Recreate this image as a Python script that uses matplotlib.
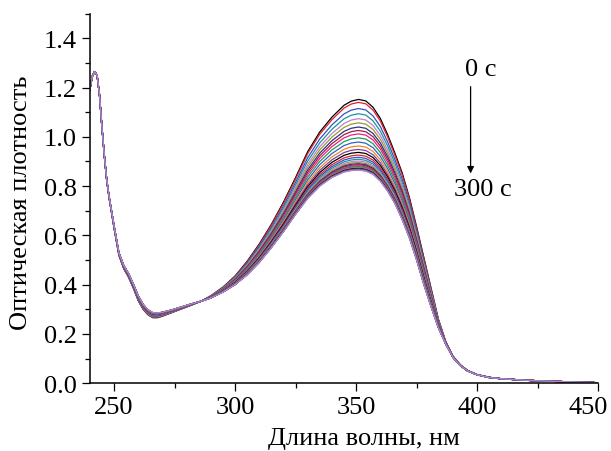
import numpy as np
from matplotlib import pyplot as plt
from matplotlib.ticker import MultipleLocator
from matplotlib.transforms import ScaledTranslation

# wavelength grid, nm
wavelength = [240, 241, 242, 243, 244, 245, 246, 247, 248,
              250, 252, 254, 256, 258, 260, 262, 264, 266, 268, 270,
              274, 278, 282, 286, 290, 295,
              300, 305, 310, 315, 320, 325, 330, 335, 340, 345,
              348, 351, 354, 357, 360, 363, 366, 369, 372, 375, 378, 381, 384, 387, 390, 393, 396,
              400, 405, 410, 420, 430, 440, 450]

# spectrum at 0 s
absorb_start = [1.19, 1.245, 1.265, 1.25, 1.17, 1.04, 0.92, 0.82, 0.75,
                0.63, 0.52, 0.465, 0.43, 0.385, 0.335, 0.30, 0.278, 0.266, 0.266, 0.272,
                0.287, 0.302, 0.317, 0.333, 0.355, 0.39,
                0.435, 0.495, 0.565, 0.645, 0.735, 0.835, 0.94, 1.02, 1.08, 1.128,
                1.145, 1.152, 1.146, 1.12, 1.075, 1.01, 0.935, 0.855, 0.755, 0.635, 0.51, 0.385, 0.26, 0.17, 0.11, 0.075, 0.052,
                0.035, 0.024, 0.018, 0.012, 0.008, 0.005, 0.002]

# spectrum at 300 s
absorb_end = [1.19, 1.245, 1.265, 1.25, 1.17, 1.04, 0.925, 0.825, 0.755,
              0.64, 0.53, 0.478, 0.445, 0.402, 0.355, 0.32, 0.298, 0.286, 0.285, 0.288,
              0.298, 0.31, 0.322, 0.333, 0.346, 0.37,
              0.40, 0.44, 0.49, 0.55, 0.615, 0.685, 0.75, 0.80, 0.835, 0.857,
              0.863, 0.865, 0.861, 0.848, 0.82, 0.78, 0.73, 0.665, 0.59, 0.50, 0.40, 0.31, 0.225, 0.16, 0.105, 0.072, 0.05,
              0.034, 0.023, 0.018, 0.012, 0.008, 0.005, 0.002]

# absorbance at the 351 nm maximum for each recorded spectrum (0 ... 300 s)
peak_heights = [1.152, 1.140, 1.115, 1.094, 1.074, 1.057, 1.040, 1.026, 1.012, 0.996,
                0.979, 0.963, 0.949, 0.937, 0.926, 0.917, 0.909, 0.902, 0.896, 0.891,
                0.887, 0.883, 0.880, 0.877, 0.875, 0.873, 0.871, 0.869, 0.868, 0.866, 0.865]

x_ticks = [250, 300, 350, 400, 450]

colors = ["#000000", "#e3202a", "#3a4fc0", "#17979a", "#c27fd0", "#9a9a2e", "#2e2e8e",
          "#a01f3f", "#ee1f88", "#1f9f4f", "#3060d0", "#f08a1e", "#7f3f9f"]

plt.rcParams['font.family'] = ['Liberation Serif', 'DejaVu Serif']

s0 = np.array(absorb_start)
s1 = np.array(absorb_end)

fig = plt.figure(figsize=(6.11, 4.52), dpi=100)
ax = fig.add_axes([0.147, 0.150, 0.832, 0.8175])

for i, peak in enumerate(peak_heights):
    frac = (peak - peak_heights[-1]) / (peak_heights[0] - peak_heights[-1])
    spectrum = s1 + frac * (s0 - s1)
    ax.plot(wavelength, spectrum, color=colors[i % len(colors)], lw=0.9)

ax.set_xlim(240, 450)
ax.set_ylim(0, 1.5)
ax.set_xticks(x_ticks)
ax.set_xticklabels([str(t) for t in x_ticks])
ax.xaxis.set_minor_locator(MultipleLocator(25))
ax.yaxis.set_major_locator(MultipleLocator(0.2))
ax.yaxis.set_minor_locator(MultipleLocator(0.1))
ax.yaxis.set_major_formatter(plt.FormatStrFormatter('%.1f'))
ax.spines['top'].set_visible(False)
ax.spines['right'].set_visible(False)
for s in ['left', 'bottom']:
    ax.spines[s].set_linewidth(1.1)
ax.tick_params(which='major', direction='out', length=5.8, width=0.9, labelsize=19)
ax.tick_params(which='minor', direction='out', length=3.6, width=0.9)

# keep the last x label inside the picture
last = ax.xaxis.get_major_ticks()[-1].label1
last.set_transform(last.get_transform() + ScaledTranslation(-10 / 100, 0, fig.dpi_scale_trans))

ax.set_xlabel("Длина волны, нм", fontsize=19)
ax.set_ylabel("Оптическая плотность", fontsize=19)
ax.xaxis.set_label_coords(0.539, -0.118)
ax.yaxis.set_label_coords(-0.113, 0.49)

ax.annotate("", xy=(397.3, 0.84), xytext=(397.3, 1.215),
            arrowprops=dict(arrowstyle="-|>", color="black", lw=0.9, mutation_scale=10))
ax.text(401.6, 1.276, "0 с", fontsize=19, ha='center', va='center')
ax.text(402.4, 0.789, "300 с", fontsize=19, ha='center', va='center')

fig.savefig("out.png", dpi=100)
